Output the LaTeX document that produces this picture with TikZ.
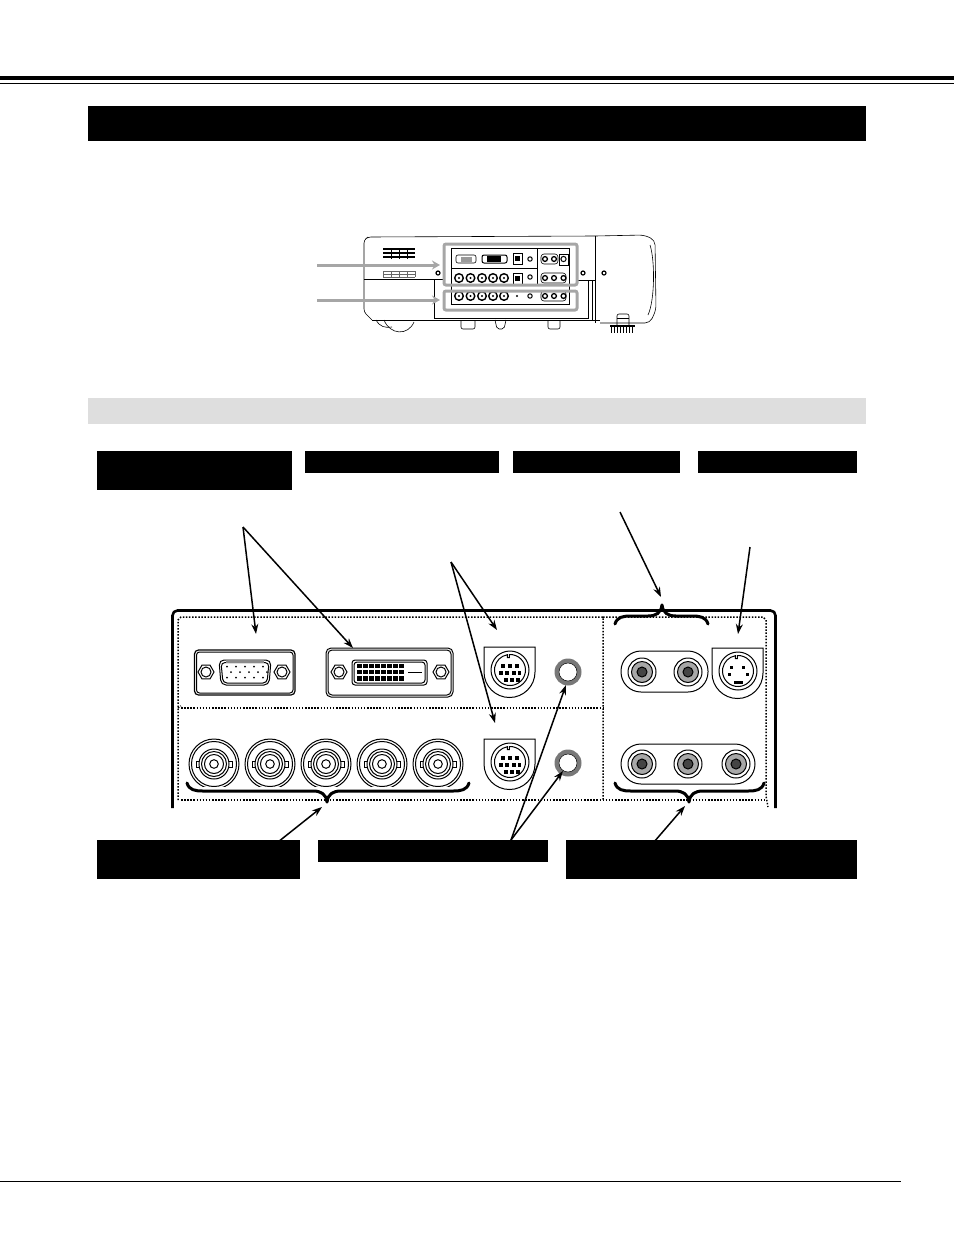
\documentclass[tikz,border=0pt]{standalone}
\usetikzlibrary{calc}
\usetikzlibrary{arrows.meta}
\tikzstyle{labelbox}=[fill=black,draw=none,inner sep=0pt,anchor=north west]
\tikzstyle{dotline}=[line width=1.5pt,dash pattern=on 1.5pt off 1.6pt]
\tikzstyle{callout}=[line width=1.5pt,-{Stealth[length=10pt,width=7pt]},shorten >=0pt]
\tikzstyle{pointer}=[line width=3pt,draw=black!35,-{Stealth[length=8pt,width=9pt]}]
\tikzstyle{brace}=[line width=3pt,line cap=round]
\tikzstyle{thinline}=[line width=1pt]
\definecolor{ringgray}{gray}{0.47}
\definecolor{rcagray}{gray}{0.66}
\definecolor{rcadark}{gray}{0.27}
\newcommand{\drawscrew}[3][8]{
\draw[thinline] ($(#2,#3)+(0:#1)$) -- ($(#2,#3)+(60:#1)$) -- ($(#2,#3)+(120:#1)$) -- ($(#2,#3)+(180:#1)$) -- ($(#2,#3)+(240:#1)$) -- ($(#2,#3)+(300:#1)$) -- cycle;
\draw[thinline] (#2,#3) circle (5);
}
\newcommand{\drawbnc}[2]{
\begin{scope}
  \clip (#1-30,#2-30) rectangle (#1+30,#2+22);
  \draw[thinline] (#1,#2) circle (25);
  \draw[thinline] (#1,#2) circle (22.5);
\end{scope}
\draw[thinline,fill=white] (#1-18,#2-3) rectangle (#1+18,#2+3);
\draw[thinline,fill=white] (#1,#2) circle (15);
\draw[thinline] (#1,#2) circle (12.5);
\draw[thinline] (#1,#2) circle (9.5);
\draw[thinline] (#1,#2) circle (4.3);
}
\newcommand{\drawdinbody}[2]{ % shield and notched ring
\draw[thinline] (#1-26,#2-23) -- (#1+25,#2-23) -- (#1+25,#2+2) arc (0:180:25.5) -- cycle;
\draw[thinline] (#1,#2) circle (19);
\draw[thinline] ($(#1,#2)+(280:15.5)$) arc (280:620:15.5) -- ++(0,3) -- ++(2,0) -- ++(0,-3.2) -- ++(1.5,0) -- cycle;
}
\newcommand{\drawmididin}[2]{
\drawdinbody{#1}{#2}
\foreach \px/\py in {-7/-4,0/-4,7/-4,-9/3,-3/3,4/3,9.5/3,-4/10,2/10,8/10} {
  \fill (#1+\px-1.8,#2+\py-1.8) rectangle ++(3.6,3.6);
}
}
\newcommand{\drawsvideo}[2]{
\drawdinbody{#1}{#2}
\foreach \px/\py in {-7/-4,5/-4,-9/3,9/3} {
  \fill (#1+\px-1.5,#2+\py-1.5) rectangle ++(3,3);
}
\fill (#1-4,#2+10) rectangle ++(9,3);
}
\newcommand{\drawring}[2]{
\fill[ringgray] (#1,#2) circle (13.5);
\fill[white,draw=black,line width=0.5pt] (#1,#2) circle (9);
}
\newcommand{\drawrca}[2]{
\draw[thinline] (#1,#2) circle (14);
\draw[thinline,fill=rcagray] (#1,#2) circle (10.5);
\draw[thinline,fill=rcadark] (#1,#2) circle (5);
}
\newcommand{\drawbrace}[5]{ % left, tip, right, y, direction (1 tip down, -1 tip up)
\draw[brace] (#1,#4) .. controls (#1+2,#4+#5*7) and (#1+8,#4+#5*8) .. (#1+16,#4+#5*8)
  -- (#2-14,#4+#5*8) .. controls (#2-6,#4+#5*8) and (#2-1,#4+#5*11) .. (#2,#4+#5*19);
\draw[brace] (#3,#4) .. controls (#3-2,#4+#5*7) and (#3-8,#4+#5*8) .. (#3-16,#4+#5*8)
  -- (#2+14,#4+#5*8) .. controls (#2+6,#4+#5*8) and (#2+1,#4+#5*11) .. (#2,#4+#5*19);
}
\begin{document}
\begin{tikzpicture}[x=1pt,y=-1pt]
  \useasboundingbox (0,0) rectangle (954,1235);
  % page furniture
  \fill (0,76) rectangle (954,80);
  \fill (0,82.5) rectangle (954,83.5);
  \fill (0,1181) rectangle (901,1182);
  \node[labelbox,minimum width=778pt,minimum height=35pt] (titlebar) at (88,106) {};
  \node[labelbox,fill=black!13,minimum width=778pt,minimum height=26pt] (subbar) at (88,398) {};
  \node[labelbox,minimum width=195pt,minimum height=39pt] (lblcomputer) at (97,451) {};
  \node[labelbox,minimum width=194pt,minimum height=22pt] (lblmonitor) at (305,451) {};
  \node[labelbox,minimum width=167pt,minimum height=22pt] (lblaudioin) at (513,451) {};
  \node[labelbox,minimum width=159pt,minimum height=22pt] (lblsvideo) at (698,451) {};
  \node[labelbox,minimum width=203pt,minimum height=39pt] (lblbnc) at (97,840) {};
  \node[labelbox,minimum width=230pt,minimum height=22pt] (lblring) at (318,840) {};
  \node[labelbox,minimum width=291pt,minimum height=39pt] (lblrca) at (566,840) {};

  % small projector
  \begin{scope}[line width=0.6pt]
    \draw[rounded corners=3pt] (372,320) -- (364,312) -- (364,240) -- (368,237) -- (595,236);
    \draw[rounded corners=5pt] (595,236) -- (644,235) -- (655,240) -- (656,310) -- (650,323) -- (600,323);
    \draw (595,236) -- (595,323);
    \draw (372,320) -- (600,320);
    \draw (384,320) .. controls (390,335) and (408,336) .. (414,322);
    \draw (376,320) .. controls (380,327) and (385,328) .. (392,327);
    \draw (434,280) -- (434,318) -- (588,318) -- (588,280);
    \draw (364,279) -- (443,279);
    \draw (577,280) -- (595,280);
    \draw (592,320) -- (592,280);
    \draw[rounded corners=2pt] (461,320) -- (461,329) -- (475,329) -- (475,320);
    \draw[rounded corners=2pt] (548,320) -- (548,329) -- (560,329) -- (560,320);
    \draw[rounded corners=2pt] (495,320) -- (497,329) -- (504,329) -- (506,320);
    \draw[rounded corners=2pt] (617,325) -- (617,314) -- (629,314) -- (629,325);
    \draw (617,318) -- (629,318);
    \draw[line width=1.2pt] (610,326) -- (635,326);
    \draw (650,245) .. controls (655,260) and (655,300) .. (648,315);
    \draw (451,248) rectangle (569,304);
    \draw (451,268) -- (537,268);
    \draw (537,248) -- (537,284);
    \foreach \sx/\sy in {438/273,583/273,604/273} {
      \draw[line width=1.2pt] (\sx,\sy) circle (2);
    }
    \foreach \sx in {459,470.5,482,493,504} {
      \draw[line width=1.4pt] (\sx,278) circle (4.3);
      \fill (\sx,278) circle (1.2);
      \draw[line width=1.4pt] (\sx,296) circle (4.3);
      \fill (\sx,296) circle (1.2);
    }
    \draw[rounded corners=2pt] (456,255) rectangle (476,263);
    \fill[black!40] (461,257) rectangle (472,262);
    \draw[rounded corners=2pt,line width=1pt] (482,255) rectangle (507,263);
    \fill (487,256) rectangle (501,262);
    \draw (513,253) rectangle (522,264);
    \draw (513,273) rectangle (522,284);
    \fill (515,255.5) rectangle (520,261);
    \fill (515,275.5) rectangle (520,281);
    \foreach \sx/\sy in {530/259,530/277,530/296} {
      \draw[line width=1pt] (\sx,\sy) circle (2.2);
    }
    \fill (517,296) circle (1.2);
    \draw[rounded corners=3pt] (541,254) rectangle (558,264);
    \draw[rounded corners=3pt] (541,273) rectangle (566,283);
    \draw[rounded corners=3pt] (541,291) rectangle (566,301);
    \foreach \sx/\sy in {545/259,554/259,545/278,554/278,563.5/278,545/296,554/296,563.5/296} {
      \draw[line width=1.3pt] (\sx,\sy) circle (2.4);
    }
    \draw (559,254) rectangle (568,265);
    \draw[line width=1pt] (563.5,259) circle (2.6);
  \end{scope}
  \foreach \vy in {248,252,256} {
    \fill (383,\vy) rectangle (415,\vy+1.5);
  }
  \foreach \vx in {391,399,407} {
    \fill (\vx,248) rectangle (\vx+0.8,259);
  }
  \fill[black!60] (383,271) rectangle (415,272);
  \fill[black!60] (383,274) rectangle (415,275);
  \fill[black!60] (383,276.5) rectangle (415,277.5);
  \foreach \vx in {383,391,399,407,415} {
    \fill[black!60] (\vx,271) rectangle (\vx+0.8,277);
  }
  \foreach \fx in {611,614,617,620,623,626,629,632} {
    \fill (\fx,327) rectangle (\fx+1.2,333);
  }

  \draw[draw=black!35,line width=3pt,rounded corners=2pt] (444,244) rectangle (577,285);
  \draw[draw=black!35,line width=3pt,rounded corners=2pt] (444,291) rectangle (577,310);
  \coordinate (ptrfromA) at (317,265);
  \coordinate (ptrtoA) at (440,265);
  \coordinate (ptrfromB) at (317,300);
  \coordinate (ptrtoB) at (440,300);
  \draw[pointer] (ptrfromA) -- (ptrtoA);
  \draw[pointer] (ptrfromB) -- (ptrtoB);

  % terminal panel
  \draw[line width=2.6pt,rounded corners=5pt] (172.5,808) -- (172.5,610.5) -- (775.5,610.5) -- (775.5,808);
  \draw[dotline] (178,800) -- (178,620) -- (181,617) -- (603,617) -- (603,800);
  \draw[dotline] (603,617) -- (763,617) -- (766,620) -- (766,796) -- (768,807);
  \draw[dotline] (181,708) -- (603,708);
  \draw[dotline] (178,708) -- (181,706);
  \draw[dotline] (181,800) -- (764,800);

  % computer input
  \draw[line width=1.2pt,rounded corners=4pt] (194.5,650) rectangle (295,695);
  \draw[thinline,rounded corners=3pt] (196.5,652) rectangle (293,693);
  \drawscrew{206}{672}
  \drawscrew{282}{672}
  \draw[thinline,fill=white,rounded corners=5pt] (219,660) -- (271,660) -- (269,685) -- (221,685) -- cycle;
  \draw[thinline,rounded corners=4pt] (221,662.5) -- (269,662.5) -- (267,683) -- (223,683) -- cycle;
  \fill[black!45] (226,660) rectangle (264,662.5);
  \foreach \i in {0,1,2,3,4} {
    \fill (227+\i*9,666.5) circle (1);
    \fill (231+\i*9,672) circle (1);
    \fill (227+\i*9,677.5) circle (1);
  }

  % dvi input
  \draw[thinline,rounded corners=5pt] (326,648) rectangle (453,697);
  \draw[thinline,rounded corners=4pt] (328,650) rectangle (451,695);
  \drawscrew{339}{672}
  \drawscrew{441}{672}
  \draw[thinline,rounded corners=3pt] (352,660) rectangle (427,685);
  \draw[thinline,rounded corners=3pt] (354,662) rectangle (425,683);
  \foreach \r in {0,1,2} {
    \foreach \c in {0,...,7} {
      \fill (357+\c*6.05,663.5+\r*6.3) rectangle ++(4.6,4.6);
    }
  }
  \fill (408,671.5) rectangle (422,673);

  \foreach \bx in {214,270,326,382,438} {
    \drawbnc{\bx}{764}
  }
  \drawmididin{510}{670}
  \drawmididin{510}{762}
  \drawring{568}{672}
  \drawring{568}{763}

  % audio and video
  \draw[thinline,rounded corners=20pt] (621,651) rectangle (708,692);
  \drawrca{642}{672}
  \drawrca{688}{672}
  \drawsvideo{738}{671}
  \draw[thinline,rounded corners=20pt] (621,744) rectangle (755,784);
  \foreach \rx in {642,688,736} {
    \drawrca{\rx}{764}
  }

  \drawbrace{187}{327}{469}{783}{1}
  \drawbrace{615}{662}{708}{624}{-1}
  \drawbrace{615}{689}{764}{783}{1}

  % callouts
  \coordinate (apexcomp) at (243,527);
  \coordinate (tovga) at (256,634);
  \coordinate (todvi) at (353,648);
  \coordinate (apexdin) at (451,562);
  \coordinate (todina) at (497,630);
  \coordinate (todinb) at (495,723);
  \coordinate (audiofrom) at (620,512);
  \coordinate (audioto) at (661,597);
  \coordinate (svidfrom) at (750,547);
  \coordinate (svidto) at (738,634);
  \coordinate (bncfrom) at (278,842);
  \coordinate (bncto) at (322,807);
  \coordinate (ringapex) at (511,840);
  \coordinate (ringtoa) at (566,685);
  \coordinate (ringtob) at (563,771);
  \coordinate (rcafrom) at (654,842);
  \coordinate (rcato) at (685,806);
  \draw[callout] (apexcomp) -- (tovga);
  \draw[callout] (apexcomp) -- (todvi);
  \draw[callout] (apexdin) -- (todina);
  \draw[callout] (apexdin) -- (todinb);
  \draw[callout] (audiofrom) -- (audioto);
  \draw[callout] (svidfrom) -- (svidto);
  \draw[callout] (bncfrom) -- (bncto);
  \draw[callout] (ringapex) -- (ringtoa);
  \draw[callout] (ringapex) -- (ringtob);
  \draw[callout] (rcafrom) -- (rcato);
\end{tikzpicture}
\end{document}
